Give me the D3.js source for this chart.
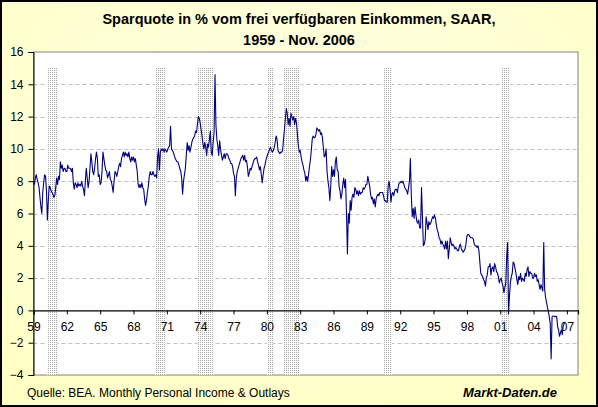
<!DOCTYPE html>
<html>
<head>
  <meta charset="utf-8">
  <title>Sparquote USA 1959 - 2006</title>
  <script src="https://d3js.org/d3.v7.min.js"></script>
  <style>
    html, body { margin: 0; padding: 0; background: #fff; }
    svg { display: block; font-family: Arial, "Liberation Sans", sans-serif; }
  </style>
</head>
<body>
  <div id="chart"></div>
  <script>
    // monthly saving rate in % of disposable income, Jan 1959 .. Nov 2006 (one row per year)
    const startYear = 1959;
    const savingRate = [
      8.0, 7.8, 8.2, 8.4, 8.1, 7.9, 7.6, 7.0, 6.4, 6.0, 7.3, 7.9,
      8.4, 8.3, 7.4, 5.6, 6.8, 7.7, 7.6, 7.4, 7.3, 7.2, 7.0, 7.1,
      7.6, 8.2, 7.8, 8.3, 8.1, 9.2, 8.8, 9.0, 8.6, 8.8, 8.8, 8.6,
      8.6, 9.0, 8.8, 8.8, 8.8, 8.6, 8.8, 7.9, 7.5, 7.9, 7.8, 7.6,
      7.9, 7.7, 7.8, 7.7, 8.0, 7.7, 7.5, 7.1, 8.0, 8.8, 8.2, 7.6,
      8.0, 8.8, 9.7, 9.2, 8.6, 8.4, 8.8, 9.4, 9.8, 9.4, 8.3, 8.4,
      7.8, 7.9, 8.6, 9.8, 9.4, 9.0, 8.7, 8.6, 8.2, 8.4, 8.6, 8.1,
      8.0, 7.7, 7.3, 8.0, 8.6, 8.5, 8.3, 8.6, 8.9, 9.1, 8.9, 9.4,
      9.6, 9.8, 9.5, 9.8, 9.6, 9.7, 9.5, 9.8, 9.4, 9.2, 9.5, 9.3,
      9.5, 9.2, 9.4, 9.0, 8.6, 7.8, 7.6, 7.8, 7.6, 7.9, 7.6, 7.5,
      6.9, 6.5, 6.8, 7.3, 7.7, 8.3, 8.6, 8.4, 8.4, 8.6, 8.4, 8.3,
      8.4, 8.2, 9.5, 10.0, 8.7, 9.8, 10.0, 9.9, 10.0, 9.8, 10.0, 9.9,
      9.8, 10.0, 10.1, 10.2, 11.4, 10.0, 9.9, 9.8, 9.6, 9.4, 9.3, 9.2,
      9.2, 9.0, 8.8, 8.6, 8.2, 7.2, 8.0, 8.4, 8.8, 9.6, 10.4, 9.9,
      10.2, 9.8, 10.1, 10.4, 10.6, 10.7, 10.8, 11.1, 11.0, 11.5, 12.0, 11.9,
      11.6, 11.2, 10.8, 10.3, 10.0, 10.4, 10.1, 9.6, 10.3, 10.1, 10.6, 11.1,
      9.8, 9.6, 10.4, 11.0, 14.6, 11.5, 10.6, 10.2, 9.6, 10.5, 10.0, 9.6,
      9.3, 9.5, 9.7, 9.4, 9.7, 9.7, 9.6, 9.4, 9.3, 9.1, 9.1, 8.9,
      8.5, 8.3, 7.1, 8.2, 8.6, 8.8, 9.0, 9.2, 9.4, 9.5, 9.6, 9.3,
      9.6, 9.2, 9.3, 8.9, 8.3, 8.5, 8.8, 8.7, 8.9, 9.1, 9.3, 9.4,
      9.4, 9.5, 9.2, 9.0, 8.7, 8.9, 8.4, 7.9, 8.4, 8.8, 9.0, 9.3,
      9.5, 9.7, 9.8, 10.0, 10.1, 9.9, 9.8, 9.9, 10.1, 10.4, 10.8, 10.6,
      9.9, 9.8, 9.7, 9.8, 9.8, 9.9, 10.6, 11.2, 11.9, 12.5, 12.2, 11.5,
      11.9, 11.4, 12.2, 12.0, 11.8, 12.0, 11.5, 11.9, 11.6, 10.9, 10.2, 9.8,
      9.9, 9.5, 9.2, 9.0, 8.7, 8.5, 8.0, 8.3, 8.0, 8.4, 8.9, 9.3,
      9.9, 10.6, 10.8, 10.7, 10.7, 10.9, 11.3, 11.2, 11.1, 11.2, 10.9, 11.0,
      10.7, 10.1, 9.5, 9.6, 10.0, 8.6, 8.0, 7.6, 6.8, 7.7, 8.9, 8.3,
      8.7, 8.3, 9.2, 9.5, 8.7, 8.6, 7.7, 7.4, 6.9, 7.2, 7.8, 8.2,
      7.6, 8.1, 6.0, 3.5, 6.0, 5.4, 6.8, 6.2, 7.0, 7.2, 7.0, 7.6,
      7.5, 7.2, 7.4, 7.1, 7.4, 7.2, 7.3, 7.3, 7.6, 7.5, 7.6, 7.8,
      7.8, 8.3, 8.0, 7.7, 7.2, 6.9, 7.0, 6.6, 6.9, 6.4, 6.9, 7.1,
      7.2, 7.1, 7.3, 7.3, 7.3, 7.3, 7.1, 6.8, 6.8, 6.7, 6.7, 7.7,
      8.0, 7.5, 6.7, 7.2, 7.3, 7.1, 7.4, 7.5, 7.5, 7.3, 7.7, 7.9,
      7.9, 8.0, 7.9, 8.0, 7.8, 7.6, 7.5, 7.4, 7.2, 7.6, 8.0, 9.4,
      7.1, 5.8, 6.3, 5.7, 6.4, 5.9, 5.5, 5.4, 5.6, 5.1, 5.1, 7.6,
      5.8, 4.0, 4.1, 4.4, 5.8, 5.4, 5.0, 5.5, 5.3, 5.4, 5.6, 5.8,
      5.7, 5.9, 5.7, 5.3, 5.0, 4.8, 4.5, 4.4, 4.1, 4.3, 4.1, 4.0,
      3.8, 4.3, 3.8, 4.3, 3.2, 3.8, 4.5, 4.2, 4.0, 4.1, 4.0, 3.8,
      3.9, 3.8, 3.7, 3.7, 4.0, 4.1, 3.8, 3.7, 3.6, 3.7, 3.8, 4.1,
      4.6, 4.7, 4.7, 4.6, 4.5, 4.5, 4.5, 4.4, 4.1, 4.0, 4.0, 3.9,
      4.0, 3.7, 3.0, 2.3, 2.2, 2.1, 1.9, 1.8, 1.5, 2.0, 2.2, 2.7,
      2.7, 2.9, 2.2, 2.6, 2.7, 2.4, 2.9, 2.7, 2.4, 2.3, 2.1, 1.7,
      1.9, 2.0, 1.7, 1.5, 1.1, 1.4, 1.7, 3.3, 4.2, -0.2, 0.9, 1.7,
      2.1, 2.3, 3.0, 2.9, 2.6, 2.3, 1.9, 1.6, 2.1, 1.9, 2.3, 1.8,
      2.0, 1.9, 1.8, 2.3, 2.1, 2.5, 2.7, 2.1, 2.4, 2.3, 2.3, 2.0,
      2.0, 2.3, 2.1, 2.2, 1.8, 1.9, 1.6, 1.3, 1.6, 1.4, 1.2, 4.2,
      1.3, 0.8, 0.5, 0.2, -0.1, -0.4, -0.8, -3.0, -0.4, -0.35, -0.35, -0.4,
      -0.35, -0.4, -1.0, -1.2, -1.6, -1.4, -1.2, -1.5, -1.0, -0.8, -0.7
    ];

    // US recessions (NBER), [first month, last month] as "YYYY-MM"
    const recessions = [
      ["1960-04", "1961-02"],
      ["1969-12", "1970-11"],
      ["1973-11", "1975-03"],
      ["1980-01", "1980-07"],
      ["1981-07", "1982-11"],
      ["1990-07", "1991-03"],
      ["2001-03", "2001-11"]
    ];

    const yTicks = [-4, -2, 0, 2, 4, 6, 8, 10, 12, 14, 16];
    const xTickYears = d3.range(1959, 2008, 3);

    const titleLines = ["Sparquote in % vom frei verfügbaren Einkommen, SAAR,", "1959 - Nov. 2006"];
    const sourceText = "Quelle: BEA. Monthly Personal Income & Outlays";
    const brandText = "Markt-Daten.de";

    const width = 598, height = 407;
    const plot = { left: 33.5, right: 578, top: 52, bottom: 375 };

    const svg = d3.select("#chart").append("svg")
      .attr("width", width)
      .attr("height", height);

    const defs = svg.append("defs");
    const bg = defs.append("radialGradient").attr("id", "bg")
      .attr("cx", "50%").attr("cy", "35%").attr("r", "75%");
    bg.append("stop").attr("offset", "0%").attr("stop-color", "#ffffe8");
    bg.append("stop").attr("offset", "100%").attr("stop-color", "#ffffc4");

    // dotted fill of the recession bands (one grey pixel per 2x2 cell)
    const pat = defs.append("pattern").attr("id", "dots")
      .attr("width", 2).attr("height", 2).attr("patternUnits", "userSpaceOnUse");
    pat.append("rect").attr("width", 2).attr("height", 2).attr("fill", "#ffffff");
    pat.append("rect").attr("width", 1).attr("height", 1).attr("fill", "#a8a8a8");

    svg.append("rect")
      .attr("x", 1).attr("y", 1)
      .attr("width", width - 2).attr("height", height - 2)
      .attr("fill", "url(#bg)")
      .attr("stroke", "#000").attr("stroke-width", 2);

    const x = d3.scaleLinear().domain([1959, 2008]).range([plot.left, plot.right]);
    const y = d3.scaleLinear().domain([-4, 16]).range([plot.bottom, plot.top]);

    const monthPos = s => { const [yy, mm] = s.split("-").map(Number); return yy + (mm - 1) / 12; };

    // plot area
    svg.append("rect")
      .attr("x", plot.left).attr("y", plot.top)
      .attr("width", plot.right - plot.left).attr("height", plot.bottom - plot.top)
      .attr("fill", "#fff").attr("stroke", "#808080").attr("stroke-width", 1);

    // gridlines
    svg.append("g").selectAll("line")
      .data(yTicks.filter(d => d !== 0 && d !== -4 && d !== 16))
      .join("line")
      .attr("x1", plot.left).attr("x2", plot.right)
      .attr("y1", d => Math.round(y(d)) + 0.5).attr("y2", d => Math.round(y(d)) + 0.5)
      .attr("stroke", "#c0c0c0").attr("stroke-dasharray", "4,3");

    // recession bands
    svg.append("g").selectAll("rect")
      .data(recessions)
      .join("rect")
      .attr("x", d => Math.round(x(monthPos(d[0]))))
      .attr("width", d => Math.round(x(monthPos(d[1]) + 1 / 12) - x(monthPos(d[0]))))
      .attr("y", 68)
      .attr("height", plot.bottom - 68)
      .attr("fill", "url(#dots)");

    // y axis
    const yAxis = svg.append("g").attr("transform", `translate(${plot.left},0)`)
      .call(d3.axisLeft(y).tickValues(yTicks).tickSize(5).tickPadding(5).tickFormat(d3.format("d")));
    yAxis.select(".domain").attr("stroke", "#000");
    yAxis.selectAll(".tick line").attr("stroke", "#000");
    yAxis.selectAll("text").attr("font-size", 12).attr("fill", "#000")
      .attr("font-family", "Arial, 'Liberation Sans', sans-serif");

    // x axis at zero line
    const xAxis = svg.append("g").attr("transform", `translate(0,${y(0)})`)
      .call(d3.axisBottom(x).tickValues(xTickYears).tickSize(4).tickPadding(8)
        .tickFormat(d => String(d % 100).padStart(2, "0")));
    xAxis.select(".domain").attr("stroke", "#000").attr("stroke-width", 1.2);
    xAxis.selectAll(".tick line").attr("stroke", "#000");
    xAxis.selectAll("text").attr("font-size", 12).attr("fill", "#000")
      .attr("font-family", "Arial, 'Liberation Sans', sans-serif");

    // data line
    const line = d3.line()
      .x((d, i) => x(startYear + i / 12))
      .y(d => y(d));

    svg.append("path")
      .datum(savingRate)
      .attr("d", line)
      .attr("fill", "none")
      .attr("stroke", "#000080")
      .attr("stroke-width", 1.1)
      .attr("stroke-linejoin", "round");

    // title
    svg.append("g").selectAll("text")
      .data(titleLines)
      .join("text")
      .attr("x", 299).attr("y", (d, i) => 24 + i * 21)
      .attr("text-anchor", "middle")
      .attr("font-size", 14.5).attr("font-weight", "bold").attr("fill", "#000")
      .text(d => d);

    // footer
    svg.append("text")
      .attr("x", 27).attr("y", 397)
      .attr("font-size", 12).attr("fill", "#000")
      .text(sourceText);

    svg.append("text")
      .attr("x", 557).attr("y", 397)
      .attr("text-anchor", "end")
      .attr("font-size", 13).attr("font-weight", "bold").attr("font-style", "italic").attr("fill", "#000")
      .text(brandText);
  </script>
</body>
</html>
